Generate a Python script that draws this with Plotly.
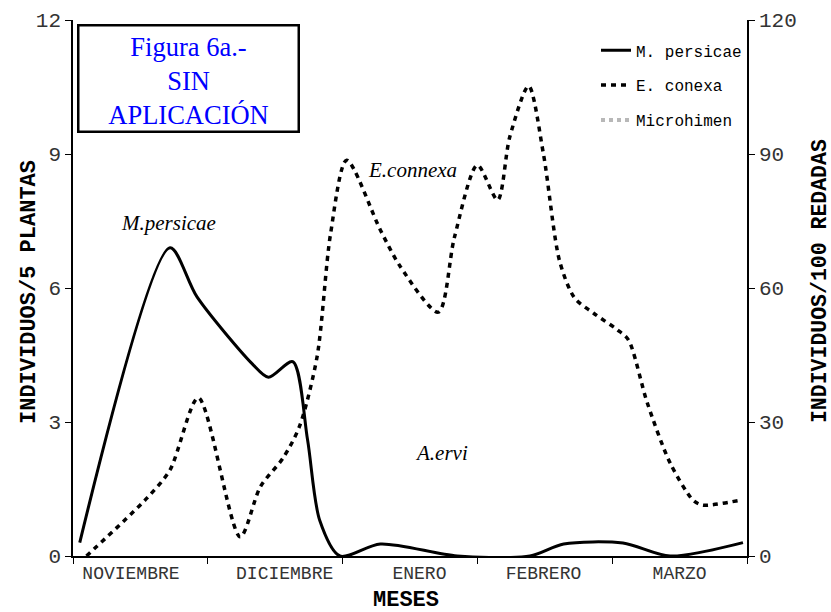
import plotly.graph_objects as go

# ---- data ----
months = ["NOVIEMBRE", "DICIEMBRE", "ENERO", "FEBRERO", "MARZO"]
month_label_pos = [0.43, 1.57, 2.57, 3.49, 4.50]
month_bounds = [0, 1, 2, 3, 4, 5]

# x positions in months elapsed since start of November
persicae_x = [0.05, 0.72, 0.92, 1.33, 1.45, 1.63, 1.74, 1.83, 1.98, 2.28, 2.85, 3.39, 3.64, 4.08, 4.43, 4.97]
persicae_y = [0.3, 6.9, 5.8, 4.3, 4.0, 4.35, 2.6, 0.8, 0.0, 0.27, 0.0, 0.0, 0.27, 0.29, 0.0, 0.3]

conexa_x = [0.10, 0.55, 0.72, 0.93, 1.24, 1.39, 1.56, 1.68, 1.81, 1.91, 2.03, 2.28, 2.43, 2.71, 2.83,
            3.00, 3.15, 3.24, 3.38, 3.49, 3.61, 3.72, 3.86, 4.04, 4.12, 4.26, 4.43, 4.60, 4.67, 4.95]
conexa_y = [0, 13, 19.3, 35.4, 4.3, 15.5, 22, 29, 44.5, 72, 88.6, 73, 64.7, 54.6, 71.4,
            87.5, 79.7, 93.8, 105.2, 90, 66, 57.8, 54.4, 50.6, 48.4, 34.3, 20.8, 12.5, 11.4, 12.5]

microhimen_x = [0.1, 4.95]
microhimen_y = [None, None]

left_ticks = [0, 3, 6, 9, 12]
right_ticks = [0, 30, 60, 90, 120]

MONO = "Liberation Mono, Courier New, monospace"
SERIF = "Liberation Serif, Times New Roman, serif"

fig = go.Figure()
fig.add_trace(go.Scatter(x=persicae_x, y=persicae_y, name="M. persicae", mode="lines",
                         legendgroup="a",
                         line=dict(color="black", width=3, shape="spline", smoothing=0.8),
                         yaxis="y"))
fig.add_trace(go.Scatter(x=conexa_x, y=conexa_y, name="E. conexa", mode="lines",
                         legendgroup="b",
                         line=dict(color="black", width=3.5, shape="spline", smoothing=0.8,
                                   dash="5px,5px"),
                         yaxis="y2"))
fig.add_trace(go.Scatter(x=microhimen_x, y=microhimen_y, name="Microhimen", mode="lines",
                         legendgroup="c",
                         line=dict(color="#b8b8b8", width=4, dash="dot"),
                         yaxis="y2"))

fig.update_layout(
    width=831, height=612,
    margin=dict(l=73, r=84, t=20, b=56),
    paper_bgcolor="white", plot_bgcolor="white",
    showlegend=True,
    legend=dict(x=1, xanchor="right", y=0.975, yanchor="top",
                font=dict(family=MONO, size=16, color="black"),
                bgcolor="rgba(0,0,0,0)", tracegroupgap=11, itemwidth=30),
    xaxis=dict(range=[0, 5], showgrid=False, zeroline=False, automargin=False,
               showline=True, linecolor="black", linewidth=1.5,
               tickmode="array", tickvals=month_label_pos, ticktext=months,
               ticks="",
               tickfont=dict(family=MONO, size=18, color="#333"),
               minor=dict(tickmode="array", tickvals=month_bounds, ticks="outside",
                          ticklen=6, tickcolor="black", tickwidth=1)),
    yaxis=dict(range=[0, 12], tickvals=left_ticks, showgrid=False, zeroline=False,
               automargin=False,
               showline=True, linecolor="black", linewidth=1.5,
               ticks="outside", ticklen=6, tickcolor="black",
               tickfont=dict(family=MONO, size=21, color="#333")),
    yaxis2=dict(range=[0, 120], tickvals=right_ticks, overlaying="y", side="right",
                showgrid=False, zeroline=False, automargin=False,
                showline=True, linecolor="black", linewidth=1.5,
                ticks="outside", ticklen=6, tickcolor="black",
                tickfont=dict(family=MONO, size=21, color="#333")),
)

# axis titles
fig.add_annotation(xref="paper", yref="paper", x=0.494, y=0, yshift=-44,
                   text="<b>MESES</b>", showarrow=False,
                   font=dict(family=MONO, size=22, color="black"),
                   xanchor="center", yanchor="middle")
fig.add_annotation(xref="paper", yref="paper", x=0, y=0.4925, xshift=-44,
                   text="<b>INDIVIDUOS/5 PLANTAS</b>", textangle=-90, showarrow=False,
                   font=dict(family=MONO, size=22, color="black"),
                   xanchor="center", yanchor="middle")
fig.add_annotation(xref="paper", yref="paper", x=1, y=0.513, xshift=73,
                   text="<b>INDIVIDUOS/100 REDADAS</b>", textangle=-90, showarrow=False,
                   font=dict(family=MONO, size=21.5, color="black"),
                   xanchor="center", yanchor="middle")

# Title box
fig.add_annotation(xref="x", yref="y", x=0.86, y=11.92, xanchor="center", yanchor="top",
                   text="Figura 6a.-<br>SIN<br>APLICACIÓN", showarrow=False,
                   font=dict(family=SERIF, size=26.5, color="#0000ff"),
                   width=208, height=94, valign="top", align="center",
                   bordercolor="black", borderwidth=2.5, borderpad=5, bgcolor="white")

# series labels
for txt, x, y in [("M.persicae", 0.71, 7.45), ("E.connexa", 2.52, 8.65), ("A.ervi", 2.73, 2.31)]:
    fig.add_annotation(xref="x", yref="y", x=x, y=y, text="<i>" + txt + "</i>", showarrow=False,
                       font=dict(family=SERIF, size=21, color="black"),
                       xanchor="center", yanchor="middle")

fig.write_html("out.html")
